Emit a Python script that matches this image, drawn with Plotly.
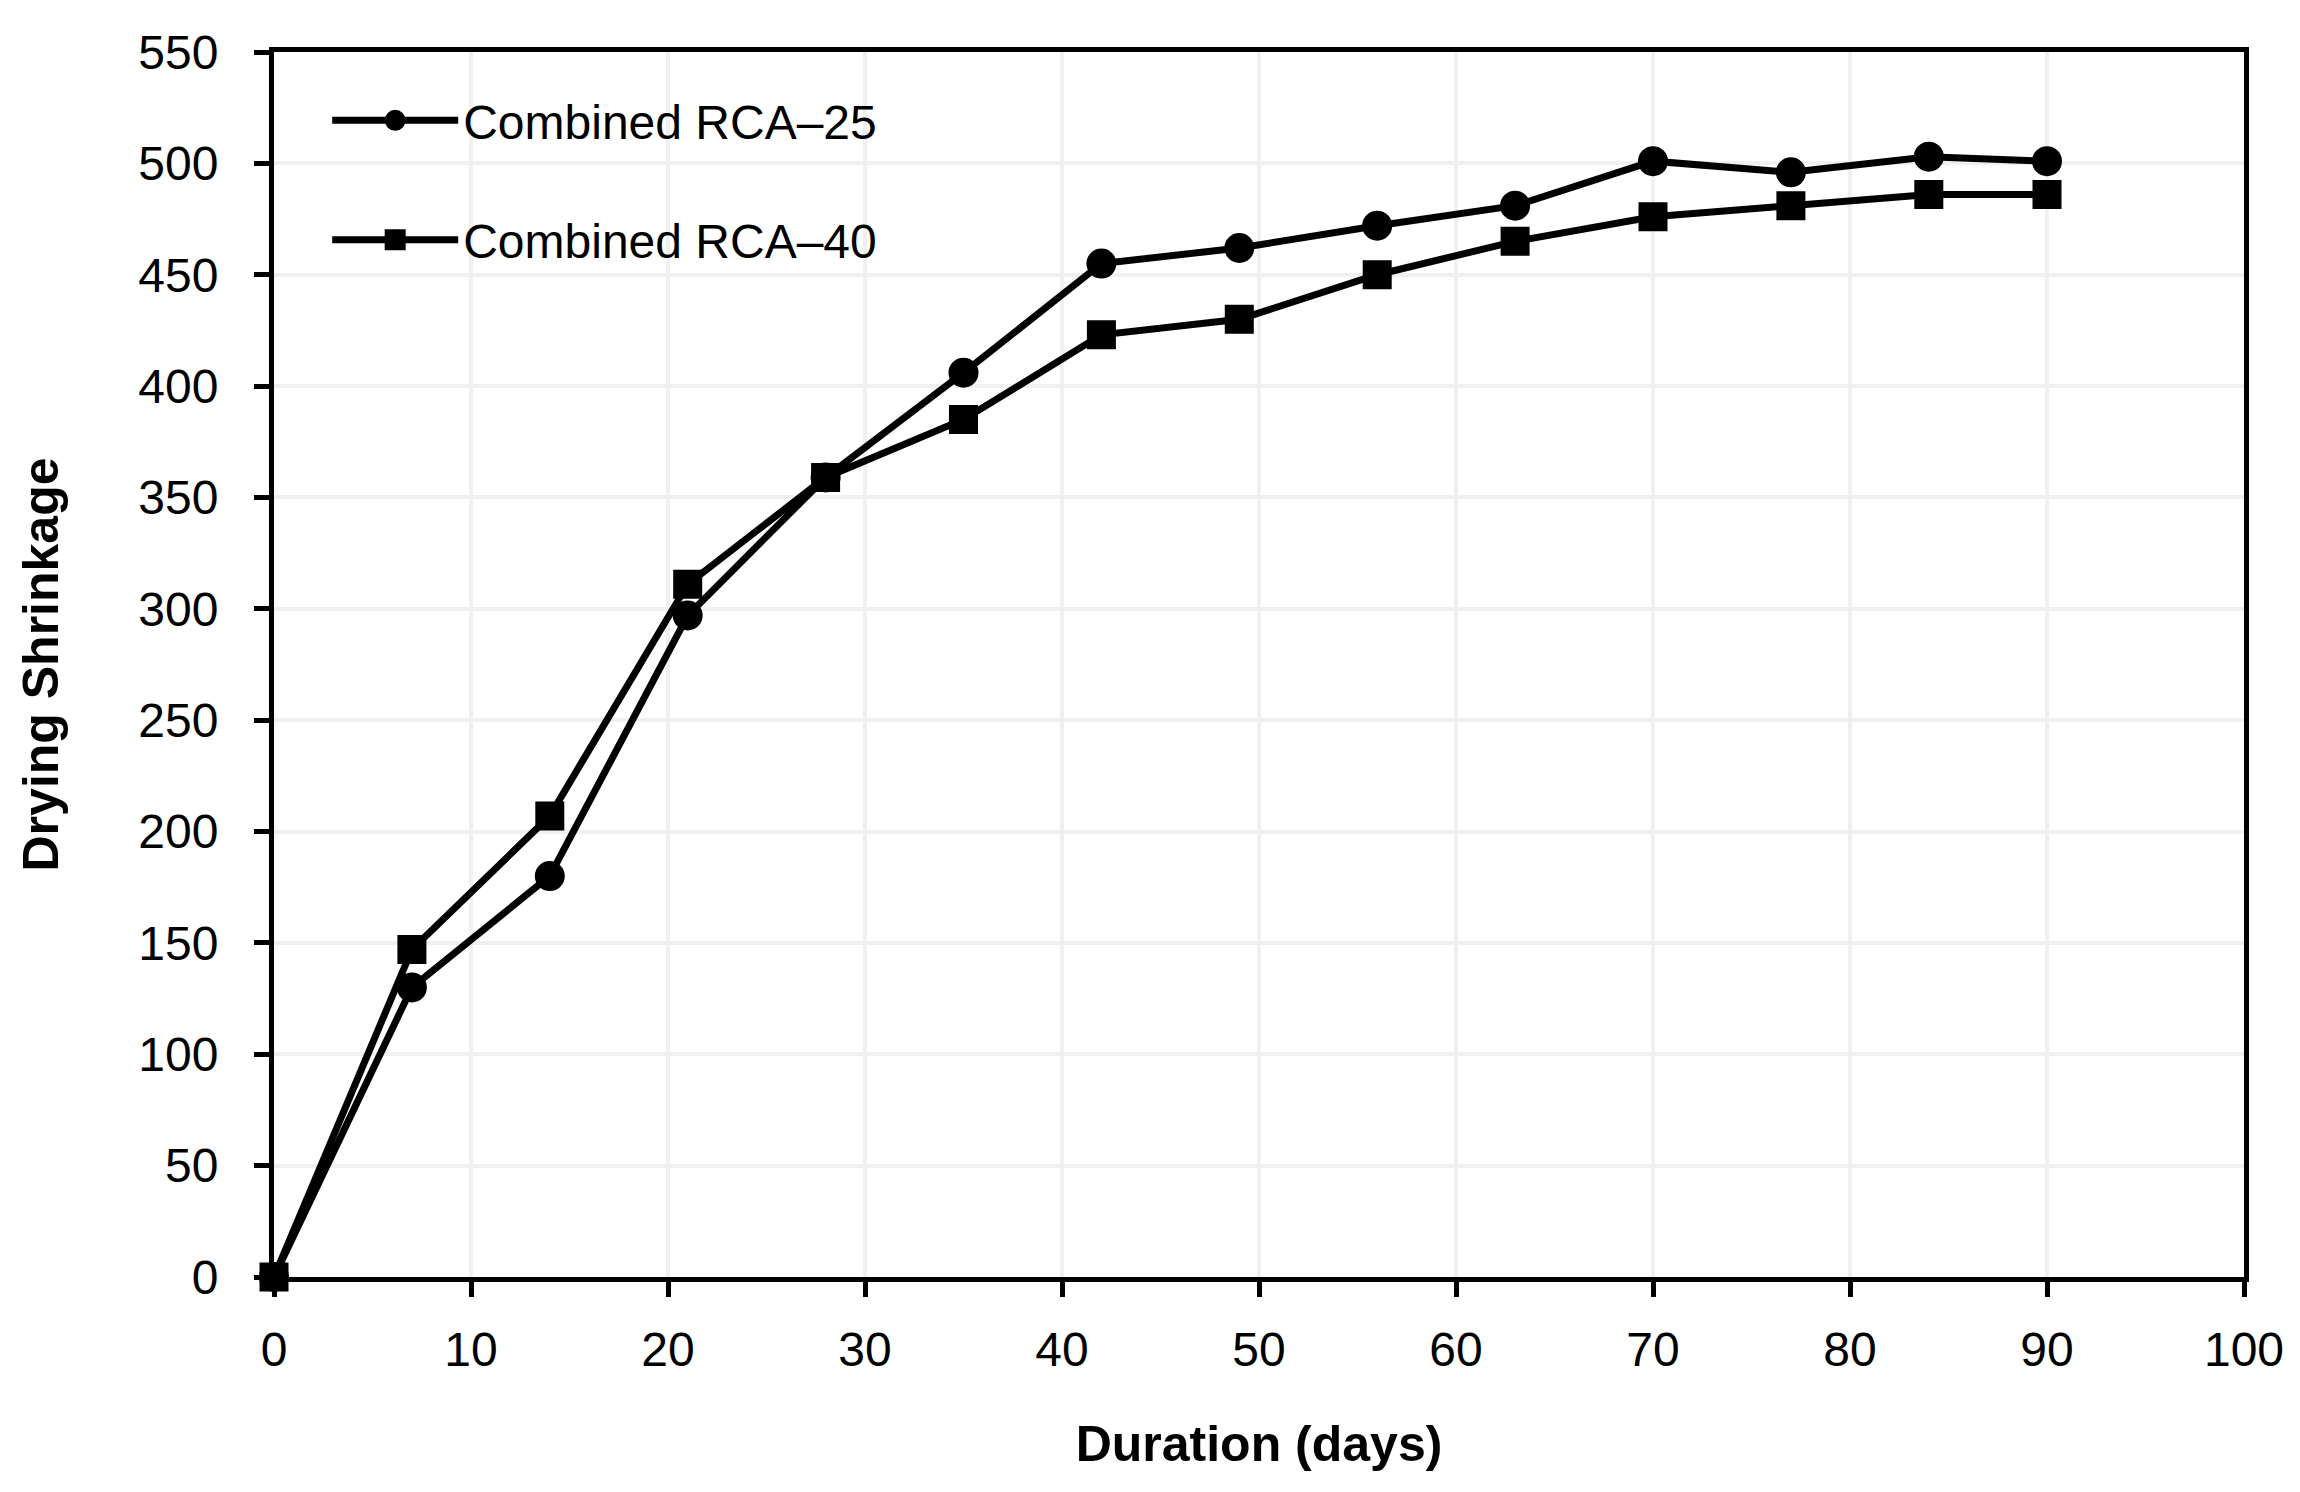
import plotly.graph_objects as go

days = [0, 7, 14, 21, 28, 35, 42, 49, 56, 63, 70, 77, 84, 90]
rca25 = [0, 130, 180, 297, 359, 406, 455, 462, 472, 481, 501, 496, 503, 501]
rca40 = [0, 147, 207, 311, 359, 385, 423, 430, 450, 465, 476, 481, 486, 486]
names = ["Combined RCA\u201325", "Combined RCA\u201340"]
x_ticks = list(range(0, 101, 10))
y_ticks = list(range(0, 551, 50))

FONT = "Liberation Sans"

fig = go.Figure()
fig.add_trace(go.Scatter(
    x=days, y=rca25, name=names[0], mode="lines+markers", legendgroup="a",
    line=dict(color="black", width=7),
    marker=dict(symbol="circle", size=25, color="black", line=dict(color="black", width=5)),
    cliponaxis=False,
))
fig.add_trace(go.Scatter(
    x=days, y=rca40, name=names[1], mode="lines+markers", legendgroup="b",
    line=dict(color="black", width=7),
    marker=dict(symbol="square", size=24, color="black", line=dict(color="black", width=5)),
    cliponaxis=False,
))

axis_common = dict(
    showline=True, linecolor="black", linewidth=5, mirror=True,
    showgrid=True, gridcolor="#f0f0f0", gridwidth=4,
    ticks="outside", ticklen=15, tickwidth=5, tickcolor="black",
    zeroline=False,
    tickfont=dict(family=FONT, size=48, color="black"),
)

fig.update_xaxes(
    range=[0, 100], tickvals=x_ticks, ticktext=[str(v) for v in x_ticks],
    title=dict(text="<b>Duration (days)</b>", font=dict(family=FONT, size=50, color="black"), standoff=53),
    ticklabelstandoff=11,
    **axis_common,
)
fig.update_yaxes(
    range=[0, 550], tickvals=y_ticks, ticktext=[str(v) for v in y_ticks],
    title=dict(text="<b>Drying Shrinkage</b>", font=dict(family=FONT, size=50, color="black"), standoff=65),
    ticklabelstandoff=26,
    **axis_common,
)

fig.update_layout(
    width=2300, height=1492,
    margin=dict(l=266, r=64, t=44, b=223),
    paper_bgcolor="white", plot_bgcolor="white",
    font=dict(family=FONT, color="black"),
    legend=dict(
        x=0.027, y=0.975, xanchor="left", yanchor="top",
        font=dict(family=FONT, size=48, color="black"),
        bgcolor="rgba(0,0,0,0)", traceorder="grouped", tracegroupgap=54,
        itemwidth=126,
    ),
)

fig.write_html("out.html")
